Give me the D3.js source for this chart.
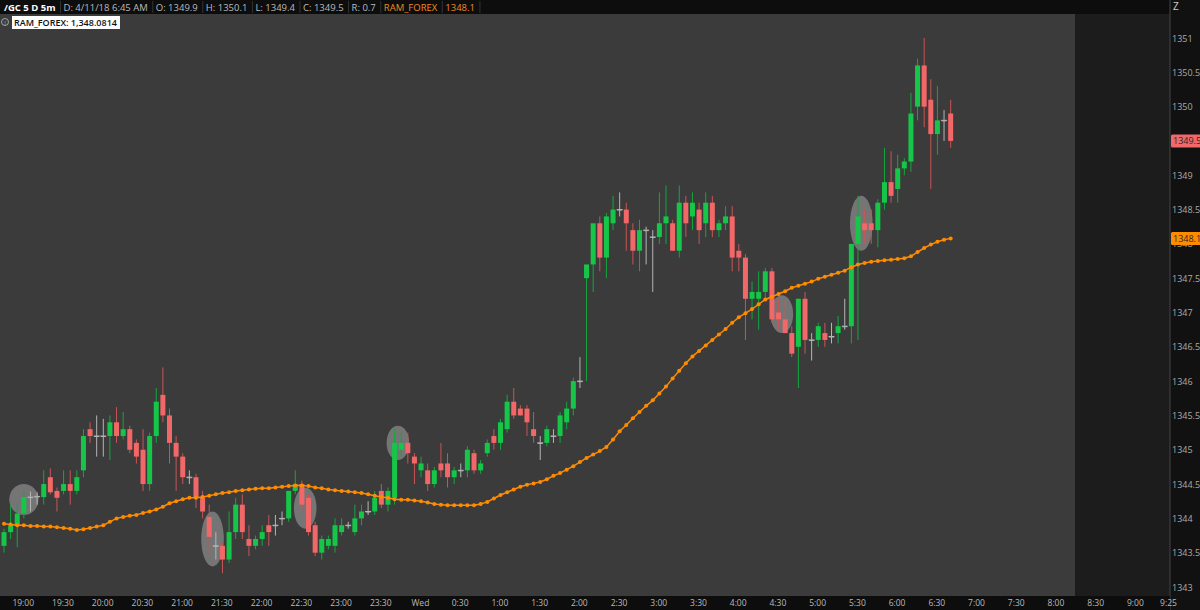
<!DOCTYPE html>
<html>
<head>
<meta charset="utf-8">
<script src="https://cdn.jsdelivr.net/npm/d3@7"></script>
<style>
  body { margin: 0; background: #111; }
  svg { display: block; font-family: "Open Sans", "Noto Sans", sans-serif; }
</style>
</head>
<body>
<div id="chart"></div>
<script>
// 5 minute bars from 18:50 to 6:45
const opens = [
  1343.6,1343.8,1343.9,1344.07,1344.31,1344.32,1344.31,1344.6,1344.4,1344.4,
  1344.5,1344.4,1344.7,1345.3,1345.2,1345.2,1345.2,1345.4,1345.2,1345.3,
  1345.1,1345.0,1344.5,1345.2,1345.8,1345.5,1345.1,1344.9,1344.6,1344.6,
  1344.3,1344.02,1343.6,1343.6,1343.4,1343.8,1344.2,1343.7,1343.6,1343.7,
  1343.9,1343.9,1344.0,1344.0,1344.4,1344.5,1344.3,1343.9,1343.5,1343.6,
  1343.6,1343.8,1343.9,1343.8,1344.0,1344.1,1344.1,1344.4,1344.2,1344.3,
  1345.0,1345.1,1344.9,1344.7,1344.7,1344.5,1344.8,1344.8,1344.6,1344.7,
  1344.7,1344.95,1344.7,1344.95,1345.2,1345.1,1345.3,1345.7,1345.6,1345.6,
  1345.3,1345.1,1345.1,1345.2,1345.2,1345.4,1345.6,1346.0,1347.5,1347.7,
  1348.3,1347.8,1348.3,1348.5,1348.5,1348.2,1347.9,1348.2,1348.1,1348.1,
  1348.3,1348.3,1347.9,1348.6,1348.4,1348.5,1348.3,1348.6,1348.2,1348.3,
  1348.4,1347.9,1347.8,1347.2,1347.2,1347.3,1347.6,1347.0,1346.9,1346.7,
  1346.5,1347.2,1346.6,1346.6,1346.7,1346.65,1346.7,1346.8,1346.8,1348.0,
  1348.3,1348.3,1348.2,1348.6,1348.9,1348.8,1349.1,1349.2,1350.0,1350.6,
  1350.1,1349.6,1349.8,1349.9
];
const highs = [
  1343.85,1344.2,1344.22,1344.39,1344.39,1344.38,1344.7,1344.73,1344.45,1344.7,
  1344.7,1344.7,1345.3,1345.4,1345.5,1345.45,1345.5,1345.62,1345.55,1345.35,
  1345.15,1345.3,1345.25,1345.9,1346.2,1345.6,1345.2,1344.95,1344.7,1344.65,
  1344.4,1344.2,1343.8,1343.65,1344.1,1344.3,1344.35,1343.9,1343.75,1343.9,
  1344.05,1344.05,1344.1,1344.4,1344.7,1344.55,1344.35,1343.95,1343.75,1343.75,
  1344.0,1344.0,1343.95,1344.2,1344.2,1344.25,1344.4,1344.5,1344.45,1345.3,
  1345.25,1345.25,1344.95,1344.9,1344.8,1344.75,1345.1,1344.95,1344.75,1344.8,
  1345.05,1345.0,1344.85,1345.15,1345.3,1345.45,1345.8,1345.9,1345.65,1345.65,
  1345.55,1345.2,1345.35,1345.3,1345.55,1345.7,1346.05,1346.35,1347.6,1347.85,
  1348.4,1348.45,1348.7,1348.75,1348.6,1348.3,1348.35,1348.25,1348.2,1348.75,
  1348.85,1348.35,1348.85,1348.7,1348.75,1348.6,1348.75,1348.7,1348.35,1348.55,
  1348.55,1348.0,1347.85,1347.45,1347.6,1347.65,1347.65,1347.2,1347.2,1346.8,
  1347.2,1347.3,1346.7,1346.85,1346.85,1346.85,1346.95,1347.2,1347.05,1348.7,
  1348.5,1348.5,1348.65,1349.4,1349.35,1349.3,1349.25,1350.2,1350.7,1351.0,
  1350.4,1350.3,1349.95,1350.1
];
const lows = [
  1343.5,1343.7,1343.58,1344.0,1344.1,1344.2,1344.2,1344.35,1344.1,1344.35,
  1344.2,1344.35,1344.6,1345.1,1344.9,1344.9,1344.85,1345.1,1345.15,1344.95,
  1344.8,1344.4,1344.4,1345.1,1345.4,1344.8,1344.4,1344.5,1344.5,1344.15,
  1344.0,1343.5,1343.4,1343.2,1343.35,1343.7,1343.7,1343.45,1343.55,1343.6,
  1343.6,1343.75,1343.9,1343.95,1344.35,1344.1,1343.75,1343.45,1343.4,1343.55,
  1343.5,1343.75,1343.85,1343.75,1343.9,1344.05,1344.05,1344.15,1344.1,1344.2,
  1344.9,1344.8,1344.5,1344.6,1344.4,1344.45,1344.6,1344.45,1344.5,1344.6,
  1344.6,1344.65,1344.65,1344.9,1345.0,1345.0,1345.25,1345.45,1345.5,1345.2,
  1345.1,1344.85,1345.05,1345.1,1345.1,1345.3,1345.5,1345.9,1346.0,1347.3,
  1347.6,1347.5,1348.2,1348.4,1347.9,1347.7,1347.6,1347.7,1347.3,1348.0,
  1348.0,1347.9,1347.8,1348.1,1348.2,1348.0,1348.1,1348.1,1348.1,1348.2,
  1347.6,1347.6,1346.6,1346.9,1346.75,1347.2,1346.85,1346.75,1346.7,1346.35,
  1345.9,1346.4,1346.3,1346.5,1346.5,1346.55,1346.55,1346.75,1346.55,1346.6,
  1348.0,1348.0,1347.95,1348.5,1348.6,1348.6,1349.0,1349.05,1349.8,1349.7,
  1348.8,1349.3,1349.5,1349.4
];
const closes = [
  1343.8,1343.9,1344.07,1344.31,1344.31,1344.32,1344.5,1344.38,1344.3,1344.5,
  1344.4,1344.6,1345.2,1345.2,1345.2,1345.2,1345.4,1345.2,1345.3,1345.0,
  1344.9,1344.5,1345.2,1345.7,1345.5,1345.1,1344.9,1344.6,1344.6,1344.3,
  1344.1,1343.73,1343.6,1343.4,1343.8,1344.2,1343.8,1343.6,1343.7,1343.8,
  1343.8,1343.9,1344.0,1344.4,1344.5,1344.2,1343.8,1343.5,1343.7,1343.7,
  1343.9,1343.9,1343.9,1344.0,1344.1,1344.1,1344.3,1344.2,1344.4,1345.1,
  1345.1,1344.95,1344.8,1344.8,1344.5,1344.7,1344.7,1344.6,1344.7,1344.7,
  1345.0,1344.7,1344.8,1345.1,1345.1,1345.4,1345.7,1345.5,1345.5,1345.4,
  1345.2,1345.1,1345.3,1345.2,1345.5,1345.6,1346.0,1346.0,1347.7,1348.3,
  1347.8,1348.4,1348.5,1348.5,1348.3,1347.9,1348.2,1348.2,1348.1,1348.3,
  1348.4,1347.9,1348.6,1348.3,1348.6,1348.2,1348.6,1348.2,1348.3,1348.4,
  1347.8,1347.8,1347.2,1347.3,1347.3,1347.6,1346.9,1346.9,1346.7,1346.4,
  1347.2,1346.6,1346.6,1346.8,1346.6,1346.65,1346.8,1346.8,1348.0,1348.4,
  1348.2,1348.2,1348.6,1348.9,1348.7,1349.1,1349.2,1349.9,1350.6,1350.0,
  1349.6,1349.8,1349.8,1349.5
];
const ramForex = [
  1343.92,1343.91,1343.90,1343.90,1343.89,1343.89,1343.88,1343.88,1343.87,1343.86,
  1343.85,1343.83,1343.84,1343.86,1343.88,1343.90,1343.95,1344.00,1344.02,1344.04,
  1344.05,1344.08,1344.10,1344.13,1344.17,1344.22,1344.25,1344.28,1344.30,1344.30,
  1344.31,1344.33,1344.35,1344.37,1344.38,1344.40,1344.41,1344.42,1344.43,1344.44,
  1344.44,1344.45,1344.46,1344.47,1344.48,1344.48,1344.47,1344.45,1344.44,1344.42,
  1344.41,1344.40,1344.39,1344.38,1344.37,1344.35,1344.33,1344.31,1344.30,1344.28,
  1344.27,1344.27,1344.26,1344.25,1344.23,1344.21,1344.20,1344.19,1344.19,1344.19,
  1344.19,1344.19,1344.21,1344.24,1344.29,1344.34,1344.38,1344.42,1344.46,1344.49,
  1344.51,1344.53,1344.57,1344.62,1344.66,1344.71,1344.76,1344.82,1344.88,1344.93,
  1344.98,1345.04,1345.15,1345.27,1345.36,1345.46,1345.55,1345.64,1345.72,1345.82,
  1345.92,1346.04,1346.15,1346.26,1346.36,1346.44,1346.52,1346.60,1346.68,1346.76,
  1346.85,1346.93,1346.99,1347.05,1347.12,1347.19,1347.23,1347.27,1347.31,1347.36,
  1347.39,1347.42,1347.45,1347.49,1347.52,1347.55,1347.58,1347.61,1347.66,1347.70,
  1347.72,1347.74,1347.75,1347.76,1347.77,1347.78,1347.79,1347.82,1347.88,1347.94,
  1347.99,1348.03,1348.06,1348.08
];
// highlighted bars: [first bar, last bar, low price, high price]
const highlights = [
  [2, 4, 1344.05, 1344.5],
  [31, 32, 1343.3, 1344.1],
  [45, 46, 1343.85, 1344.45],
  [59, 60, 1344.85, 1345.35],
  [117, 118, 1346.7, 1347.25],
  [129, 130, 1347.9, 1348.7]
];
const priceTicks = [1343, 1343.5, 1344, 1344.5, 1345, 1345.5, 1346, 1346.5, 1347, 1347.5, 1348, 1348.5, 1349, 1349.5, 1350, 1350.5, 1351];
const timeLabels = ["19:00","19:30","20:00","20:30","21:00","21:30","22:00","22:30","23:00","23:30","Wed","0:30","1:00","1:30","2:00","2:30","3:00","3:30","4:00","4:30","5:00","5:30","6:00","6:30","7:00","7:30","8:00","8:30","9:00","9:25"];
const timeLabelBars = [2,8,14,20,26,32,38,44,50,56,62,68,74,80,86,92,98,104,110,116,122,128,134,140,146,152,158,164,170,175];
const header = [
  ["/GC 5 D 5m", "#fff", true], ["D: 4/11/18 6:45 AM", "#bbb"], ["O: 1349.9", "#bbb"],
  ["H: 1350.1", "#bbb"], ["L: 1349.4", "#bbb"], ["C: 1349.5", "#bbb"], ["R: 0.7", "#bbb"],
  ["RAM_FOREX", "#f08a24"], ["1348.1", "#f08a24"]
];

const W = 1200, H = 610;
const svg = d3.select('#chart').append('svg').attr('width', W).attr('height', H);

const x = d3.scaleLinear().domain([0, 175]).range([4, 4 + 175 * 6.62]);
const y = d3.scaleLinear().domain([1343, 1351]).range([587, 38]);

svg.append('rect').attr('width', W).attr('height', H).attr('fill', '#111');
svg.append('rect').attr('x', 0).attr('y', 14).attr('width', 1075).attr('height', 582).attr('fill', '#3b3b3b');
svg.append('rect').attr('x', 1075).attr('y', 14).attr('width', 95).attr('height', 582).attr('fill', '#1c1c1c');
svg.append('rect').attr('x', 0).attr('y', 0).attr('width', 1170).attr('height', 14).attr('fill', '#0d0d0d');

// header
let hx = 1;
header.forEach(([t, c, bold]) => {
  const txt = svg.append('text').attr('x', hx + 3).attr('y', 10.5)
    .attr('fill', c).attr('font-size', 9.5).attr('font-weight', bold ? 700 : 400).text(t);
  const w = txt.node().getComputedTextLength();
  hx += w + 8;
  svg.append('line').attr('x1', hx).attr('x2', hx).attr('y1', 1).attr('y2', 13).attr('stroke', '#333');
});
svg.append('circle').attr('cx', 5).attr('cy', 22).attr('r', 3.5).attr('fill', 'none').attr('stroke', '#bbb').attr('stroke-width', 0.8);
svg.append('text').attr('x', 5).attr('y', 24.5).attr('text-anchor', 'middle').attr('font-size', 6).attr('fill', '#bbb').text('!');
const lblBox = svg.append('rect').attr('x', 12).attr('y', 16).attr('height', 13).attr('fill', '#fff');
const lbl = svg.append('text').attr('x', 14).attr('y', 26).attr('font-size', 9).attr('font-weight', 600).attr('fill', '#111').text('RAM_FOREX: 1,348.0814');
lblBox.attr('width', lbl.node().getComputedTextLength() + 5);

const bars = d3.range(opens.length);

// highlight ellipses
svg.append('g').selectAll('ellipse').data(highlights).join('ellipse')
  .attr('cx', d => (x(d[0]) + x(d[1])) / 2)
  .attr('cy', d => (y(d[2]) + y(d[3])) / 2)
  .attr('rx', d => (x(d[1]) - x(d[0])) / 2 + 8)
  .attr('ry', d => (y(d[2]) - y(d[3])) / 2)
  .attr('fill', '#bdbdbd').attr('opacity', 0.45);

const colorOf = i => closes[i] > opens[i] ? '#16c648' : closes[i] < opens[i] ? '#f26767' : '#b5b5b5';
const wickOf = i => closes[i] > opens[i] ? '#12a83d' : closes[i] < opens[i] ? '#c85555' : '#b5b5b5';

const candles = svg.append('g');
candles.selectAll('line.wick').data(bars).join('line').attr('class', 'wick')
  .attr('x1', i => x(i)).attr('x2', i => x(i))
  .attr('y1', i => y(highs[i])).attr('y2', i => y(lows[i]))
  .attr('stroke', wickOf).attr('stroke-width', 1);
candles.selectAll('rect').data(bars).join('rect')
  .attr('x', i => x(i) - 2.5).attr('width', 5)
  .attr('y', i => y(Math.max(opens[i], closes[i])))
  .attr('height', i => Math.max(1, Math.abs(y(opens[i]) - y(closes[i]))))
  .attr('fill', colorOf);
candles.selectAll('line.doji').data(bars.filter(i => opens[i] === closes[i])).join('line')
  .attr('class', 'doji')
  .attr('x1', i => x(i) - 3).attr('x2', i => x(i) + 3)
  .attr('y1', i => y(opens[i])).attr('y2', i => y(opens[i]))
  .attr('stroke', '#b5b5b5').attr('stroke-width', 1);

// RAM_FOREX line
const line = d3.line().x((d, i) => x(i)).y(d => y(d));
svg.append('path').datum(ramForex).attr('d', line)
  .attr('fill', 'none').attr('stroke', '#ff8c00').attr('stroke-width', 1.5);
svg.append('g').selectAll('circle').data(ramForex).join('circle')
  .attr('cx', (d, i) => x(i)).attr('cy', d => y(d)).attr('r', 2)
  .attr('fill', '#ff8c00');

// price axis
const axisG = svg.append('g').attr('transform', 'translate(1170,0)');
axisG.append('line').attr('y1', 0).attr('y2', 610).attr('stroke', '#444');
axisG.selectAll('text').data(priceTicks).join('text')
  .attr('x', 2).attr('y', d => y(d) + 3.5)
  .attr('font-size', 9).attr('fill', '#aaa').text(d => d);
axisG.append('text').attr('x', 3).attr('y', 10).attr('font-size', 10).attr('fill', '#ccc').text('Z');

function tag(price, fill, label) {
  const g = axisG.append('g').attr('transform', `translate(1,${y(price)})`);
  const r = g.append('rect').attr('x', 0).attr('y', -6.5).attr('height', 13).attr('rx', 1.5).attr('fill', fill);
  const t = g.append('text').attr('x', 2).attr('y', 3.5).attr('font-size', 9).attr('fill', '#2a2a2a').text(label);
  r.attr('width', t.node().getComputedTextLength() + 4);
}
tag(closes[closes.length - 1], '#f26767', '1349.5');
tag(ramForex[ramForex.length - 1], '#ff8c00', '1348.1');

// time axis
svg.append('rect').attr('x', 0).attr('y', 596).attr('width', 1170).attr('height', 14).attr('fill', '#0d0d0d');
svg.append('g').selectAll('text').data(timeLabels).join('text')
  .attr('x', (d, i) => x(timeLabelBars[i]) + 6).attr('y', 606)
  .attr('text-anchor', 'middle').attr('font-size', 8.5).attr('fill', '#bbb').text(d => d);
</script>
</body>
</html>
